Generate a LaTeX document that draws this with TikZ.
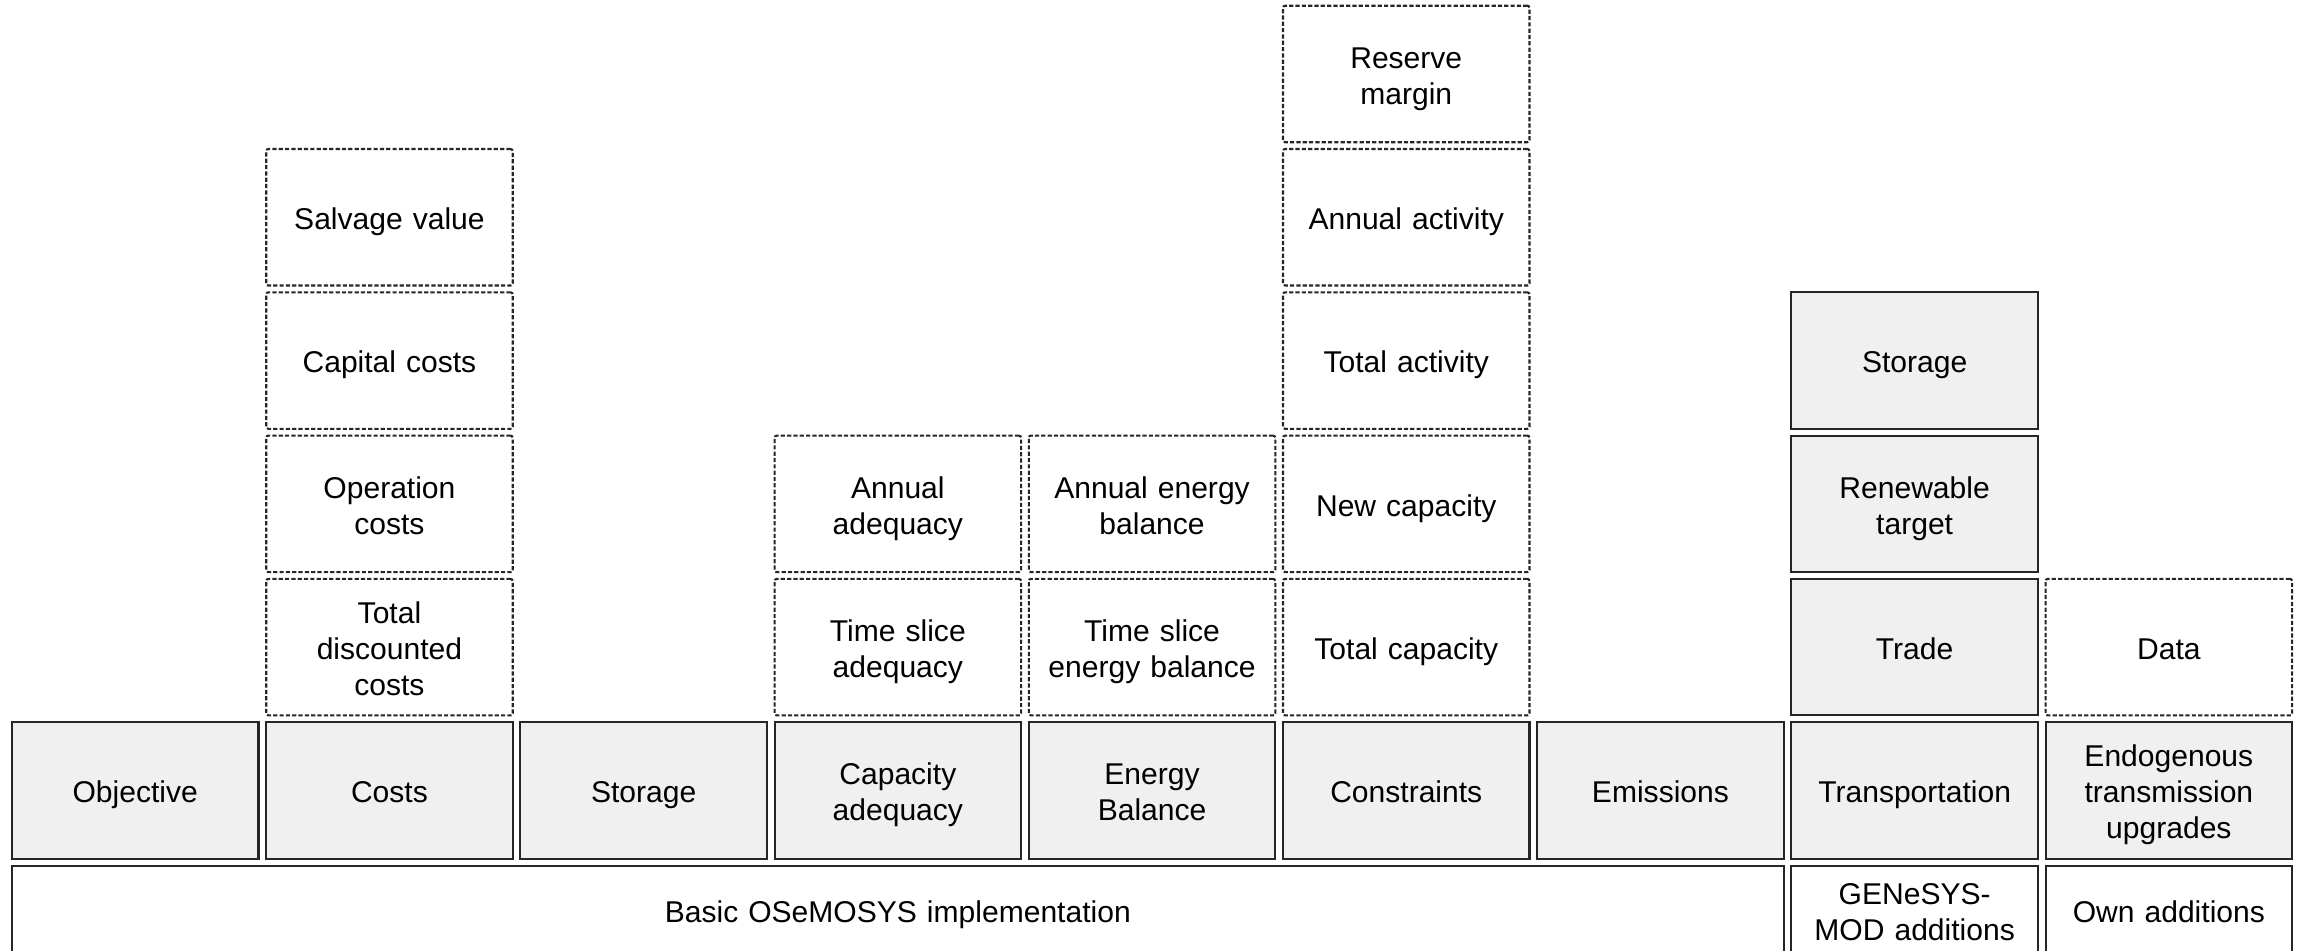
\documentclass[tikz,border=0pt]{standalone}
\usepackage{fontspec}
\setmainfont{Liberation Sans}
\usepackage{xcolor}
\usepackage{tikz}
\usetikzlibrary{positioning}

\definecolor{boxgray}{HTML}{F0F0F0}
\definecolor{boxline}{HTML}{262626}

\tikzset{
  block/.style={draw=boxline, line width=0.6pt, fill=boxgray, minimum width=2.465cm, minimum height=1.365cm,
    text width=2.35cm, align=center, inner sep=1pt, font=\fontsize{8.55}{10.2}\selectfont,
    execute at begin node=\rule{0pt}{9pt}, execute at end node=\rule[-2pt]{0pt}{2pt}},
  extra/.style={block, draw=black!85, fill=white, dash pattern=on 1.2pt off 0.6pt, rounded corners=0.6pt},
  base/.style={block, fill=white, minimum height=0.88cm},
}

\begin{document}
\begin{tikzpicture}
\useasboundingbox (0,0) rectangle (23.02,9.51);

% bottom layer
\node[base, minimum width=17.717cm, text width=17.5cm] (basic) at (8.978,0.41) {Basic OSeMOSYS implementation};
\node[base] (genesys) at (19.1465,0.41) {GENeSYS-\\MOD additions};
\node[base] (own) at (21.6885,0.41) {Own additions};

% model blocks
\node[block] (objective) at (1.3525,1.605) {Objective};
\node[block] (costs) at (3.8945,1.605) {Costs};
\node[block] (storage) at (6.4365,1.605) {Storage};
\node[block] (capacity) at (8.9785,1.605) {Capacity\\adequacy};
\node[block] (balance) at (11.5205,1.605) {Energy\\Balance};
\node[block] (constraints) at (14.0625,1.605) {Constraints};
\node[block] (emissions) at (16.6045,1.605) {Emissions};
\node[block] (transport) at (19.1465,1.605) {Transportation};
\node[block] (endogenous) at (21.6885,1.605) {Endogenous\\transmission\\upgrades};

% costs
\node[extra] (discounted) at (3.8945,3.038) {Total\\discounted\\costs};
\node[extra] (operation) at (3.8945,4.471) {Operation\\costs};
\node[extra] (capital) at (3.8945,5.904) {Capital costs};
\node[extra] (salvage) at (3.8945,7.337) {Salvage value};

% adequacy and balance
\node[extra] (sliceadeq) at (8.9785,3.038) {Time slice\\adequacy};
\node[extra] (annualadeq) at (8.9785,4.471) {Annual\\adequacy};
\node[extra] (slicebal) at (11.5205,3.038) {Time slice\\energy balance};
\node[extra] (annualbal) at (11.5205,4.471) {Annual energy\\balance};

% constraints
\node[extra] (totalcap) at (14.0625,3.038) {Total capacity};
\node[extra] (newcap) at (14.0625,4.471) {New capacity};
\node[extra] (totalact) at (14.0625,5.904) {Total activity};
\node[extra] (annualact) at (14.0625,7.337) {Annual activity};
\node[extra] (reserve) at (14.0625,8.770) {Reserve\\margin};

% transportation
\node[block] (trade) at (19.1465,3.038) {Trade};
\node[block] (renewable) at (19.1465,4.471) {Renewable\\target};
\node[block] (transstorage) at (19.1465,5.904) {Storage};

% own additions
\node[extra] (data) at (21.6885,3.038) {Data};
\end{tikzpicture}
\end{document}
